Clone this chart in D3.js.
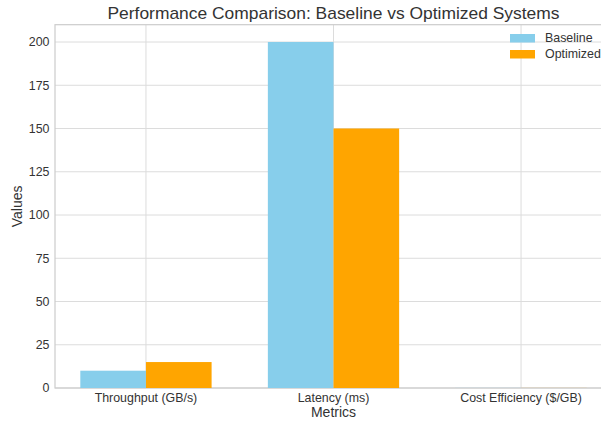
<!DOCTYPE html>
<html><head><meta charset="utf-8">
<script src="https://cdn.jsdelivr.net/npm/d3@7"></script>
<style>body{margin:0;background:#fff}svg{display:block}text{font-family:"Liberation Sans",Arial,sans-serif}</style>
</head><body>
<script>
const categories = ["Throughput (GB/s)", "Latency (ms)", "Cost Efficiency ($/GB)"];
const baseline = [10, 200, 0.05];
const optimized = [15, 150, 0.04];
const seriesNames = ["Baseline", "Optimized"];
const seriesColors = ["#87CEEB", "#FFA500"];
const yTicks = [0, 25, 50, 75, 100, 125, 150, 175, 200];

const W = 601, H = 422;
const svg = d3.select("body").append("svg").attr("width", W).attr("height", H);
const pL = 55, pR = 612, pT = 24.7, pB = 388;
const barW = 0.35;
const x = d3.scaleLinear().domain([-0.485, 2.485]).range([pL, pR]);
const y = d3.scaleLinear().domain([0, 210]).range([pB, pT]);

const g = svg.append("g");
// grid
g.selectAll(".hg").data(yTicks).enter().append("line")
  .attr("x1", pL).attr("x2", pR).attr("y1", d => y(d)).attr("y2", d => y(d))
  .attr("stroke", "#dcdcdc").attr("stroke-width", 1);
g.selectAll(".vg").data(categories).enter().append("line")
  .attr("x1", (d, i) => x(i)).attr("x2", (d, i) => x(i)).attr("y1", pT).attr("y2", pB)
  .attr("stroke", "#dcdcdc").attr("stroke-width", 1);
// spines
g.append("rect").attr("x", pL).attr("y", pT).attr("width", pR - pL).attr("height", pB - pT)
  .attr("fill", "none").attr("stroke", "#cccccc").attr("stroke-width", 1.2);

// bars
const series = [baseline, optimized];
series.forEach((vals, s) => {
  g.selectAll(".b" + s).data(vals).enter().append("rect")
    .attr("x", (d, i) => x(i + (s === 0 ? -barW : 0)))
    .attr("width", x(barW) - x(0))
    .attr("y", d => y(d))
    .attr("height", d => y(0) - y(d))
    .attr("fill", seriesColors[s]);
});

// y tick labels
g.selectAll(".yl").data(yTicks).enter().append("text")
  .attr("x", pL - 5.5).attr("y", d => y(d)).attr("dy", "0.35em")
  .attr("text-anchor", "end").attr("font-size", 12.4).attr("fill", "#333")
  .text(d => d);
// x tick labels
g.selectAll(".xl").data(categories).enter().append("text")
  .attr("x", (d, i) => x(i)).attr("y", pB + 14)
  .attr("text-anchor", "middle").attr("font-size", 12.4).attr("fill", "#333")
  .text(d => d);

// axis labels
svg.append("text").attr("x", (pL + pR) / 2).attr("y", 417)
  .attr("text-anchor", "middle").attr("font-size", 14).attr("fill", "#333").text("Metrics");
svg.append("text").attr("transform", "translate(22," + ((pT + pB) / 2) + ") rotate(-90)")
  .attr("text-anchor", "middle").attr("font-size", 14).attr("fill", "#333").text("Values");
// title
svg.append("text").attr("x", (pL + pR) / 2).attr("y", 19)
  .attr("text-anchor", "middle").attr("font-size", 17).attr("fill", "#333")
  .attr("textLength", 452).attr("lengthAdjust", "spacingAndGlyphs")
  .text("Performance Comparison: Baseline vs Optimized Systems");

// legend
const lg = svg.append("g");
seriesNames.forEach((n, i) => {
  const yy = 38 + i * 16;
  lg.append("rect").attr("x", 510).attr("y", yy - 4).attr("width", 25).attr("height", 8.5).attr("fill", seriesColors[i]);
  lg.append("text").attr("x", 545).attr("y", yy).attr("dy", "0.35em").attr("font-size", 12.4).attr("fill", "#333").text(n);
});
</script>
</body></html>
